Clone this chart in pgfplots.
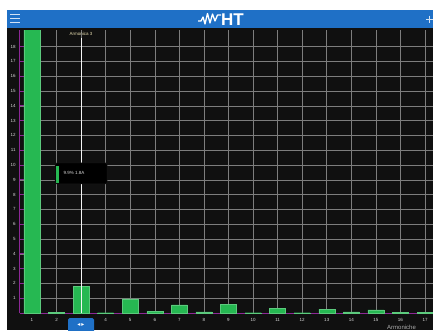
\documentclass[border=0pt]{standalone}
\usepackage{pgfplots}
\pgfplotsset{compat=1.18}
\usepackage{fontspec}
\setmainfont{Liberation Sans}
\newfontfamily\symfont{DejaVu Sans}
\definecolor{htblue}{RGB}{31,112,198}
\definecolor{bargreen}{RGB}{38,184,82}
\definecolor{axmag}{RGB}{140,40,150}
\definecolor{gridc}{RGB}{125,125,125}
\definecolor{bg}{RGB}{16,16,16}
\definecolor{labc}{RGB}{215,215,215}
\definecolor{curc}{RGB}{230,220,175}
\begin{document}
\begin{tikzpicture}[x=1pt,y=1pt]
\useasboundingbox (0,0) rectangle (433,-330);
\clip (0,0) rectangle (433,-330);
\fill[white] (0,0) rectangle (433,-330);
\fill[bg] (7,-28) rectangle (433,-330);
\fill[htblue] (7,-10) rectangle (433,-28);
% hamburger icon
\foreach \yy in {14.5,18.5,22.5} \draw[white!80!htblue,line width=1.1pt] (10,-\yy) -- (20,-\yy);
% plus
\draw[white!80!htblue,line width=0.9pt] (426,-19) -- (433,-19) (429.5,-15.5) -- (429.5,-22.5);
% logo
\draw[white,line width=1.3pt,line join=round] (198,-21) -- (201,-21) -- (203,-17) -- (205,-24) -- (207.5,-13.5) -- (210,-23) -- (212.5,-14) -- (215,-21) -- (217.5,-15) -- (221,-15);
\node[anchor=west, white, font=\bfseries\fontsize{17}{17}\selectfont, inner sep=0] at (221,-19.5) {HT};
\begin{axis}[
  at={(19.7pt,-313pt)}, anchor=south west,
  scale only axis, width=413.9pt, height=283pt,
  xmin=0.5, xmax=17.35, ymin=0, ymax=19.12,
  axis lines*=left,
  axis line style={axmag, line width=0.9pt},
  xtick={1,...,17}, ytick={1,...,18},
  grid=major, grid style={gridc, line width=0.55pt},
  tick align=inside,
  x tick style={draw=none},
  y tick style={axmag, line width=0.8pt},
  major tick length=4pt,
  /pgf/number format/assume math mode=true,
  tick label style={font=\fontsize{4.5}{5}\selectfont, text=labc},
  xticklabel style={yshift=-2pt},
  yticklabel style={xshift=-0.5pt},
  clip=true,
]
\addplot[ybar, bar width=16pt, bar shift=0pt, fill=bargreen, draw=bargreen!75!white, line width=0.4pt]
  coordinates {(1,19.5) (2,0.05) (3,1.78) (4,0.02) (5,0.95) (6,0.1) (7,0.55) (8,0.08) (9,0.6) (10,0.02) (11,0.3) (12,0.02) (13,0.27) (14,0.07) (15,0.22) (16,0.03) (17,0.03)};
\addplot[white!92!gray, line width=0.9pt] coordinates {(3,0) (3,18.55)};
\node[font=\fontsize{4.5}{5}\selectfont, text=curc, inner sep=0] at (axis cs:3,18.85) {Armonica 3};
\node[fill=black, draw=black!80!gray, rounded corners=1.5pt, minimum width=52pt, minimum height=21pt, inner sep=0] at (axis cs:3.0,9.43) {};
\addplot[bargreen, line width=2.3pt] coordinates {(2.04,8.8) (2.04,9.95)};
\node[font=\fontsize{4.5}{5}\selectfont, text=labc, anchor=west, inner sep=0] at (axis cs:2.28,9.43) {9.9\% 1.8A};
\end{axis}
% button
\fill[htblue, rounded corners=1.5pt] (68,-318) rectangle (94,-334);
\node[font=\symfont\bfseries\fontsize{6}{6}\selectfont, text=white, inner sep=0] at (81,-324.5) {◂\,▸};
\node[anchor=south west, font=\fontsize{6}{6}\selectfont, text=labc!80!black, inner sep=0] at (387,-329.6) {Armoniche};
\end{tikzpicture}
\end{document}
